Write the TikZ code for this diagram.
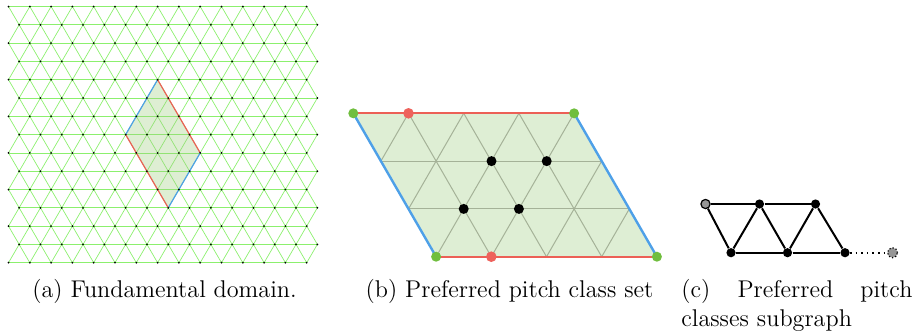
\documentclass[tikz,border=0pt]{standalone}
\usepackage{xcolor}
\usepackage{tikz}
\usetikzlibrary{positioning,calc}
\definecolor{latgreen}{RGB}{140,240,110}
\definecolor{domtint}{RGB}{160,205,130}
\definecolor{domfill}{RGB}{222,238,212}
\definecolor{gridgray}{RGB}{165,178,152}
\definecolor{edgered}{RGB}{236,96,86}
\definecolor{edgeblue}{RGB}{78,160,232}
\definecolor{dotgreen}{RGB}{112,190,62}
\definecolor{dotred}{RGB}{238,98,92}
\definecolor{ghostgray}{RGB}{150,150,150}

\begin{document}
\begin{tikzpicture}[x=0.5pt, y=-0.5pt,
        latline/.style={latgreen, line width=0.35pt},
        gridline/.style={gridgray, line width=0.5pt},
        redside/.style={edgered, line width=1pt},
        blueside/.style={edgeblue, line width=1.2pt},
        pcdot/.style={circle, inner sep=0pt, minimum size=5pt, fill=black},
        vtx/.style={circle, inner sep=0pt, minimum size=4.6pt, fill=black},
        link/.style={black, line width=1pt},
        caption/.style={inner sep=0pt, font=\fontsize{12.1}{14.5}\selectfont}]

      \useasboundingbox (0,0) rectangle (913,334);

      % (a) lattice
      \foreach \r in {0,...,14}
        \foreach \k in {0,...,14}
          \coordinate (p-\r-\k) at ({8.5+21.3*\k+10.65*mod(\r,2)}, {6.5+18.3*\r});

      \foreach \r in {0,...,14}
        \draw[latline] (p-\r-0) -- (p-\r-14);
      \foreach \r [evaluate=\r as \rn using int(\r+1)] in {0,2,...,12}{
        \foreach \k in {0,...,14} \draw[latline] (p-\r-\k) -- (p-\rn-\k);
        \foreach \k [evaluate=\k as \km using int(\k-1)] in {1,...,14} \draw[latline] (p-\r-\k) -- (p-\rn-\km);
      }
      \foreach \r [evaluate=\r as \rn using int(\r+1)] in {1,3,...,13}{
        \foreach \k in {0,...,14} \draw[latline] (p-\r-\k) -- (p-\rn-\k);
        \foreach \k [evaluate=\k as \kp using int(\k+1)] in {0,...,13} \draw[latline] (p-\r-\k) -- (p-\rn-\kp);
      }

      \fill[domtint, opacity=0.35] (p-4-7) -- (p-8-9) -- (p-11-7) -- (p-7-5) -- cycle;
      \draw[edgeblue, line width=0.6pt] (p-4-7) -- (p-7-5);
      \draw[edgeblue, line width=0.6pt] (p-8-9) -- (p-11-7);
      \draw[edgered, line width=0.6pt] (p-4-7) -- (p-8-9);
      \draw[edgered, line width=0.6pt] (p-7-5) -- (p-11-7);

      \foreach \r in {0,...,14}
        \foreach \k in {0,...,14}
          \fill (p-\r-\k) circle (0.5pt);

      % (b) pitch class set
      \coordinate (tl) at (353.3,113.3);
      \coordinate (tr) at (574.1,113.3);
      \coordinate (bl) at (436.1,256.7);
      \coordinate (br) at (656.9,256.7);

      \fill[domfill] (tl) -- (tr) -- (br) -- (bl) -- cycle;
      \begin{scope}
        \clip (tl) -- (tr) -- (br) -- (bl) -- cycle;
        \draw[gridline] ($(tl)+(27.6,47.8)$) -- ($(tr)+(27.6,47.8)$);
        \draw[gridline] ($(tl)+(55.2,95.6)$) -- ($(tr)+(55.2,95.6)$);
        \foreach \i in {1,2,3}
          \draw[gridline] ($(tl)+(\i*55.2,0)$) -- ($(tl)+(\i*55.2+82.8,143.4)$);
        \foreach \i in {1,...,7}
          \draw[gridline] ($(tl)+(\i*55.2,0)$) -- ($(tl)+(\i*55.2-82.8,143.4)$);
      \end{scope}
      \draw[redside] (tl) -- (tr);
      \draw[redside] (bl) -- (br);
      \draw[blueside] (tl) -- (bl);
      \draw[blueside] (tr) -- (br);

      \node[pcdot, fill=dotgreen] (g1) at (tl) {};
      \node[pcdot, fill=dotgreen] (g2) at (tr) {};
      \node[pcdot, fill=dotgreen] (g3) at (bl) {};
      \node[pcdot, fill=dotgreen] (g4) at (br) {};
      \node[pcdot, fill=dotred, minimum size=5.3pt] (r1) at (408.5,113.3) {};
      \node[pcdot, fill=dotred, minimum size=5.3pt] (r2) at (491.3,256.7) {};
      \node[pcdot] (k1) at (491.5,161.1) {};
      \node[pcdot] (k2) at (546.7,161.1) {};
      \node[pcdot] (k3) at (463.7,208.9) {};
      \node[pcdot] (k4) at (518.9,208.9) {};

      % (c) subgraph
      \node[vtx, fill=ghostgray, draw=black, line width=0.6pt] (v0) at (705.5,204) {};
      \node[vtx] (a1) at (759.5,204) {};
      \node[vtx] (a2) at (815.5,204) {};
      \node[vtx] (b1) at (731,252.7) {};
      \node[vtx] (b2) at (787.5,252.7) {};
      \node[vtx] (b3) at (845,252.7) {};
      \node[vtx, fill=ghostgray, draw=black, densely dotted, line width=0.6pt, minimum size=5pt] (gh) at (892.5,252.7) {};

      \draw[link] (v0) -- (a1);
      \draw[link] (a1) -- (a2);
      \draw[link] (v0) -- (b1);
      \draw[link] (b1) -- (a1);
      \draw[link] (a1) -- (b2);
      \draw[link] (b2) -- (a2);
      \draw[link] (a2) -- (b3);
      \draw[link] (b1) -- (b2);
      \draw[link] (b2) -- (b3);
      \draw[black, line width=0.8pt, dotted] (b3) -- (gh);

      % captions
      \node[caption, anchor=base] (capa) at (164.5,297) {(a) Fundamental domain.};
      \node[caption, anchor=base] (capb) at (509.5,297) {(b) Preferred pitch class set};
      \node[caption, anchor=base west, text width=115.5pt, align=left] (capc) at (681,297)
        {(c)\hfill Preferred\hfill pitch\\classes subgraph};
    \end{tikzpicture}
\end{document}
